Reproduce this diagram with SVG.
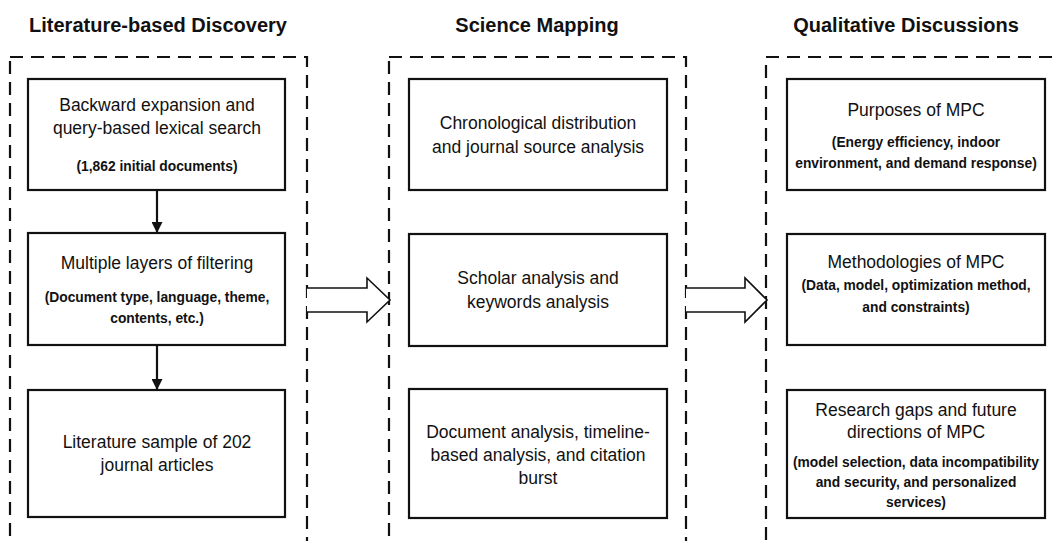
<svg xmlns="http://www.w3.org/2000/svg" width="1052" height="541" viewBox="0 0 1052 541">
<defs>
<style>
.title{font-family:"Liberation Sans",Arial,sans-serif;font-weight:bold;font-size:20px;fill:#111;text-anchor:middle}
.main{font-family:"Liberation Sans",Arial,sans-serif;font-size:17.5px;fill:#111;text-anchor:middle}
.sub{font-family:"Liberation Sans",Arial,sans-serif;font-weight:bold;font-size:13.8px;fill:#111;text-anchor:middle}
.box{fill:#fff;stroke:#111;stroke-width:2.2}
.group{fill:none;stroke:#111;stroke-width:2.2;stroke-dasharray:13 8}
.hollow{fill:#fff;stroke:#111;stroke-width:1.6;stroke-linejoin:miter}
.conn{stroke:#111;stroke-width:2.2;fill:none}
</style>
<marker id="ah" viewBox="0 0 10 10" refX="10" refY="5" markerWidth="5" markerHeight="5" markerUnits="strokeWidth" orient="auto">
<path d="M0,0 L10,5 L0,10 Z" fill="#111"/>
</marker>
</defs>
<rect width="1052" height="541" fill="#fff"/>

<g id="titles">
<text class="title" x="158" y="32">Literature-based Discovery</text>
<text class="title" x="537" y="32">Science Mapping</text>
<text class="title" x="906" y="32">Qualitative Discussions</text>
</g>

<g id="group-lbd"><rect class="group" x="10" y="57" width="297" height="520"/></g>
<g id="group-sm"><rect class="group" x="389" y="57" width="297" height="520"/></g>
<g id="group-qd"><rect class="group" x="766" y="57" width="320" height="520"/></g>

<g id="connectors">
<line class="conn" x1="157" y1="190" x2="157" y2="233" marker-end="url(#ah)"/>
<line class="conn" x1="157" y1="345" x2="157" y2="390" marker-end="url(#ah)"/>
<path class="hollow" d="M307,288 H367 V278 L390,300 L367,322 V312 H307"/>
<path class="hollow" d="M686,288 H745 V278 L767,300 L745,322 V312 H686"/>
</g>

<g id="n-backward">
<rect class="box" x="28" y="79" width="257" height="111"/>
<text class="main" x="157" y="111">Backward expansion and</text>
<text class="main" x="157" y="134">query-based lexical search</text>
<text class="sub" x="157" y="171">(1,862 initial documents)</text>
</g>
<g id="n-filtering">
<rect class="box" x="28" y="233" width="257" height="112"/>
<text class="main" x="157" y="269">Multiple layers of filtering</text>
<text class="sub" x="157" y="302">(Document type, language, theme,</text>
<text class="sub" x="157" y="323">contents, etc.)</text>
</g>
<g id="n-sample">
<rect class="box" x="28" y="390" width="257" height="127"/>
<text class="main" x="157" y="448">Literature sample of 202</text>
<text class="main" x="157" y="471">journal articles</text>
</g>

<g id="n-chrono">
<rect class="box" x="409" y="79" width="258" height="111"/>
<text class="main" x="538" y="129">Chronological distribution</text>
<text class="main" x="538" y="153">and journal source analysis</text>
</g>
<g id="n-scholar">
<rect class="box" x="409" y="234" width="258" height="112"/>
<text class="main" x="538" y="284">Scholar analysis and</text>
<text class="main" x="538" y="308">keywords analysis</text>
</g>
<g id="n-document">
<rect class="box" x="409" y="389" width="258" height="129"/>
<text class="main" x="538" y="438">Document analysis, timeline-</text>
<text class="main" x="538" y="461">based analysis, and citation</text>
<text class="main" x="538" y="484">burst</text>
</g>

<g id="n-purposes">
<rect class="box" x="787" y="79" width="258" height="111"/>
<text class="main" x="916" y="116">Purposes of MPC</text>
<text class="sub" x="916" y="147">(Energy efficiency, indoor</text>
<text class="sub" x="916" y="168">environment, and demand response)</text>
</g>
<g id="n-methods">
<rect class="box" x="787" y="234" width="258" height="111"/>
<text class="main" x="916" y="268">Methodologies of MPC</text>
<text class="sub" x="916" y="290">(Data, model, optimization method,</text>
<text class="sub" x="916" y="312">and constraints)</text>
</g>
<g id="n-gaps">
<rect class="box" x="787" y="390" width="258" height="128"/>
<text class="main" x="916" y="416">Research gaps and future</text>
<text class="main" x="916" y="438">directions of MPC</text>
<text class="sub" x="916" y="467">(model selection, data incompatibility</text>
<text class="sub" x="916" y="487">and security, and personalized</text>
<text class="sub" x="916" y="507">services)</text>
</g>
</svg>
